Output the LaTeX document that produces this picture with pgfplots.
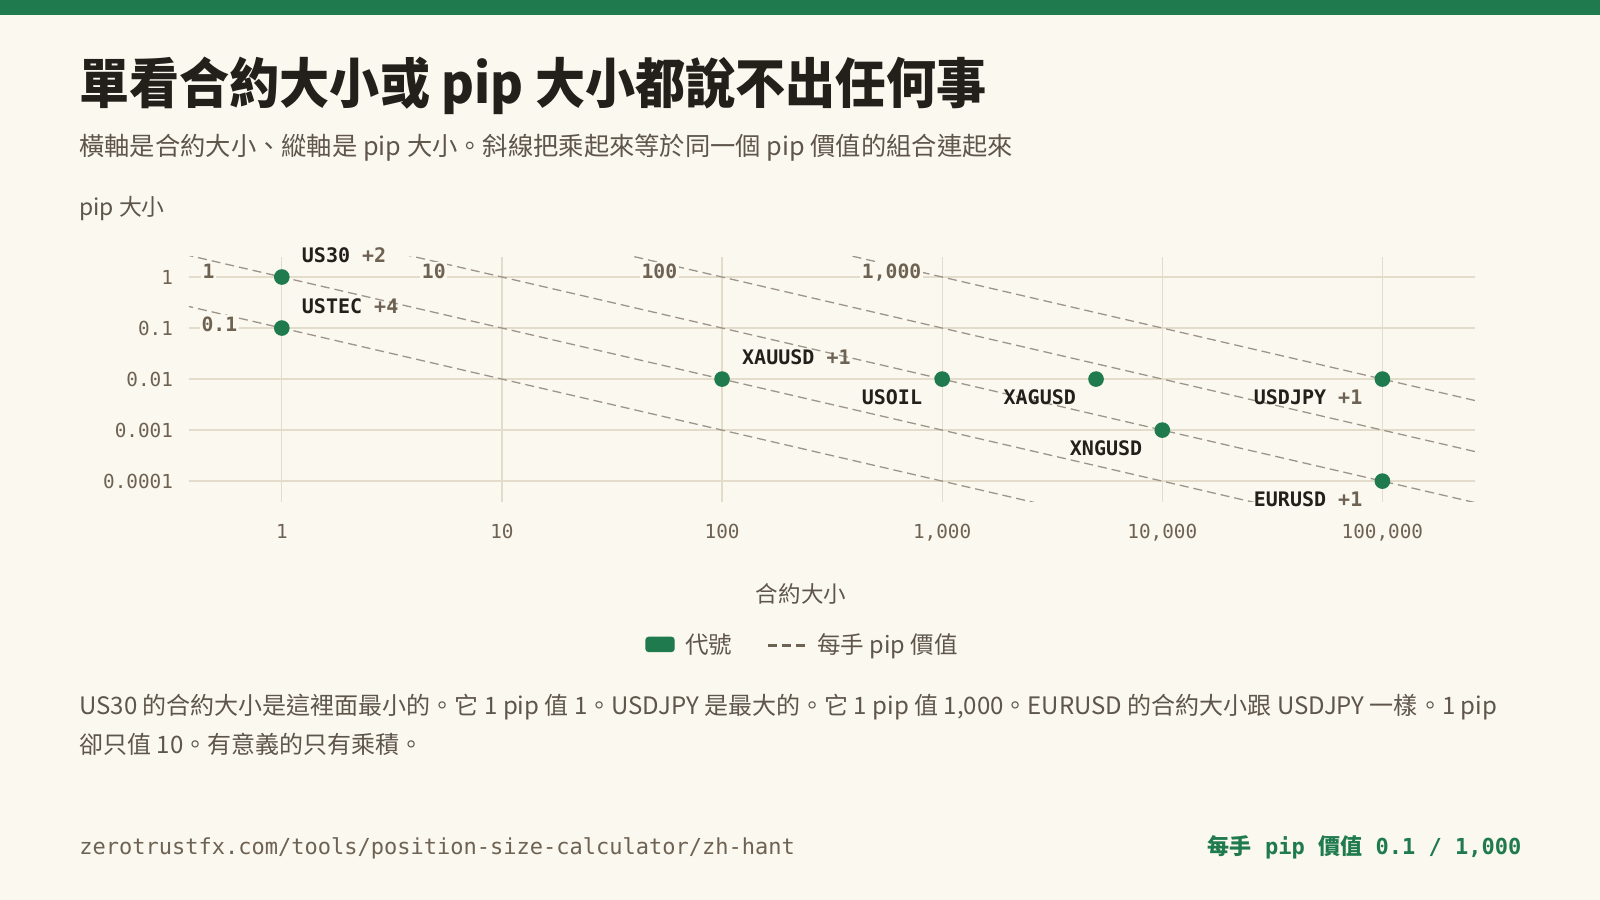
\documentclass[border=0pt]{standalone}
\usepackage{pgfplots}
\pgfplotsset{compat=1.18}
\usepackage{fontspec}
\setmainfont{Noto Sans CJK TC}
\newfontfamily\cjk{Noto Sans CJK TC}
\newfontfamily\mono[Ligatures=TeXOff]{DejaVu Sans Mono}

\definecolor{bg}{HTML}{FBF8F0}
\definecolor{brand}{HTML}{1F7A4D}
\definecolor{ink}{HTML}{231F1A}
\definecolor{muted}{HTML}{5E554B}
\definecolor{tickc}{HTML}{6E6252}
\definecolor{gridc}{HTML}{E3DCCB}
\definecolor{dashc}{HTML}{9E958A}

\begin{document}
\begin{tikzpicture}[x=0.01cm,y=0.01cm,
  dashline/.style={dashc, line width=0.37pt, dash pattern=on 2.56pt off 1.42pt},
  vlab/.style={anchor=base west, fill=bg, inner sep=0.5pt, text=tickc,
    font=\mono\bfseries\fontsize{5.6}{6}\selectfont, yshift=-0.072cm},
  plab/.style={inner sep=0pt, text=ink, font=\mono\bfseries\fontsize{5.69}{6}\selectfont},
  ar/.style={plab, anchor=base west, xshift=0.194cm, yshift=0.141cm},
  bl/.style={plab, anchor=base east, xshift=-0.194cm, yshift=-0.257cm}]
\useasboundingbox (0,0) rectangle (1600,900);
\fill[bg] (0,0) rectangle (1600,900);
\fill[brand] (0,884.7) rectangle (1600,900);

% titles
\node[anchor=base west, inner sep=0, text=ink, xscale=0.928, transform shape,
  font=\bfseries\fontsize{15.36}{18}\selectfont]
  at (78.6,796) {單看合約大小或 pip 大小都說不出任何事};
\node[anchor=base west, inner sep=0, text=muted, font=\fontsize{7.19}{9}\selectfont]
  at (78.6,744) {橫軸是合約大小、縱軸是 pip 大小。斜線把乘起來等於同一個 pip 價值的組合連起來};
\node[anchor=base west, inner sep=0, text=muted, font=\fontsize{6.5}{8}\selectfont]
  at (78.6,684) {pip 大小};

\begin{axis}[
  at={(1.887cm,3.98cm)}, anchor=south west,
  scale only axis, width=12.853cm, height=2.45cm,
  xmode=log, ymode=log,
  xmin=0.378, xmax=263000, ymin=3.94e-5, ymax=2.51,
  axis line style={draw=none},
  major tick length=0pt, minor tick length=0pt,
  xtick={1,10,100,1000,10000,100000},
  xticklabels={1,10,100,{1,000},{10,000},{100,000}},
  ytick={0.0001,0.001,0.01,0.1,1},
  yticklabels={0.0001,0.001,0.01,0.1,1},
  grid=major,
  major grid style={gridc, line width=0.37pt},
  xticklabel style={font=\mono\fontsize{5.49}{6}\selectfont, text=tickc,
    inner sep=0pt, anchor=north, yshift=-0.216cm},
  yticklabel style={font=\mono\fontsize{5.49}{6}\selectfont, text=tickc,
    inner sep=0pt, anchor=east, xshift=-0.152cm},
  clip mode=individual,
  legend columns=-1,
  legend style={at={(0.4764,-0.588)}, anchor=center, draw=none, fill=none,
    font=\fontsize{6.69}{8}\selectfont, text=muted, inner sep=0pt,
    nodes={inner sep=0pt},
    /tikz/every odd column/.style={column sep=0.106cm},
    /tikz/every even column/.style={column sep=0.345cm}},
]
% lines of equal pip value: contract size x pip size
\addplot[dashline, forget plot] coordinates {(0.1,1) (1000000,0.0000001)};
\addplot[dashline, forget plot] coordinates {(0.1,10) (1000000,0.000001)};
\addplot[dashline, forget plot] coordinates {(0.1,100) (1000000,0.00001)};
\addplot[dashline, forget plot] coordinates {(0.1,1000) (1000000,0.0001)};
\addplot[dashline, forget plot] coordinates {(0.1,10000) (1000000,0.001)};

\addplot[brand, only marks, mark=*, mark size=2.02pt, mark options={draw=brand, fill=brand},
  legend image code/.code={\fill[brand, rounded corners=0.8pt] (0cm,-0.055cm) rectangle (0.28cm,0.085cm);}]
  coordinates {
    (1,1) (1,0.1) (100,0.01) (1000,0.01) (5000,0.01)
    (10000,0.001) (100000,0.01) (100000,0.0001)
  };
\addlegendentry{代號}
\addlegendimage{legend image code/.code={\draw[tickc, line width=0.8pt,
  dash pattern=on 0.09cm off 0.05cm] (0cm,0.005cm) -- (0.37cm,0.005cm);}}
\addlegendentry{每手 pip 價值}

% pip value labels
\node[vlab] at (axis cs:0.426,1.276) {1};
\node[vlab] at (axis cs:0.421,0.1197) {0.1};
\node[vlab] at (axis cs:4.22,1.276) {10};
\node[vlab] at (axis cs:42.0,1.276) {100};
\node[vlab] at (axis cs:421,1.276) {1,000};

% symbol labels
\node[ar] at (axis cs:1,1) {US30 \textcolor{tickc}{+2}};
\node[ar] at (axis cs:1,0.1) {USTEC \textcolor{tickc}{+4}};
\node[ar] at (axis cs:100,0.01) {XAUUSD \textcolor{tickc}{+1}};
\node[bl] at (axis cs:1000,0.01) {USOIL};
\node[bl] at (axis cs:5000,0.01) {XAGUSD};
\node[bl] at (axis cs:10000,0.001) {XNGUSD};
\node[bl] at (axis cs:100000,0.01) {USDJPY \textcolor{tickc}{+1}};
\node[bl] at (axis cs:100000,0.0001) {EURUSD \textcolor{tickc}{+1}};
\end{axis}

\node[anchor=base, inner sep=0, text=muted, font=\fontsize{6.4}{8}\selectfont]
  at (801,297) {合約大小};

% note
\node[anchor=base west, inner sep=0, text=muted, font=\fontsize{6.83}{8}\selectfont]
  at (78.6,185) {US30 的合約大小是這裡面最小的。它 1 pip 值 1。USDJPY 是最大的。它 1 pip 值 1,000。EURUSD 的合約大小跟 USDJPY 一樣。1 pip};
\node[anchor=base west, inner sep=0, text=muted, font=\fontsize{6.83}{8}\selectfont]
  at (78.6,146) {卻只值 10。有意義的只有乘積。};

% footer
\node[anchor=base west, inner sep=0, text=tickc, font=\mono\fontsize{6.26}{7}\selectfont]
  at (78.6,45) {zerotrustfx.com/tools/position-size-calculator/zh-hant};
\node[anchor=base east, inner sep=0, text=brand, font=\mono\bfseries\fontsize{6.26}{7}\selectfont]
  at (1522,45) {{\cjk\bfseries 每手} pip {\cjk\bfseries 價值} 0.1 / 1,000};
\end{tikzpicture}
\end{document}
